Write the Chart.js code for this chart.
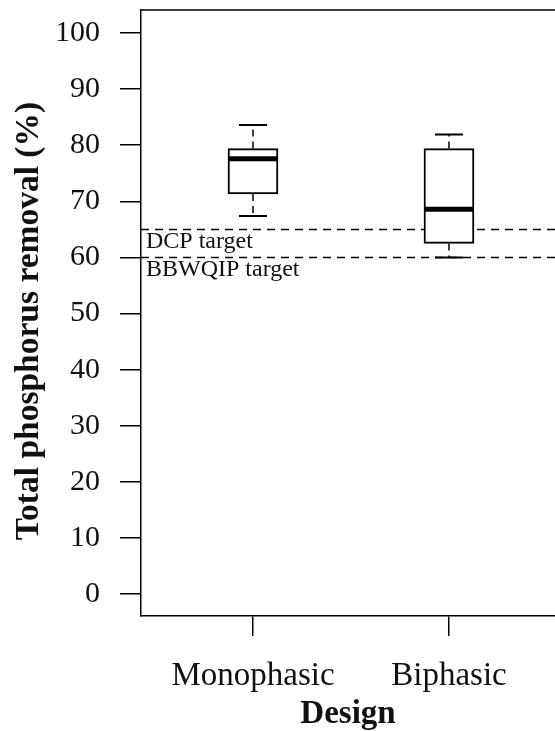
<!DOCTYPE html>
<html>
<head>
<meta charset="utf-8">
<script src="https://cdn.jsdelivr.net/npm/chart.js@4"></script>
<style>
	html, body { margin: 0; padding: 0; background: #fff; overflow: hidden; }
	#wrap { width: 555px; height: 731px; }
</style>
</head>
<body>
<div id="wrap"><canvas id="boxChart" width="555" height="731"></canvas></div>
<script>
// data
var designs = ['Monophasic', 'Biphasic'];
var positions = [1, 2];
var whiskerLow = [67.4, 60.0];
var boxLow = [71.3, 62.5];
var medians = [77.6, 68.6];
var boxHigh = [79.4, 79.4];
var whiskerHigh = [83.6, 81.9];

var targetNames = ['DCP target', 'BBWQIP target'];
var targetValues = [65, 60];

var yTicks = [0, 10, 20, 30, 40, 50, 60, 70, 80, 90, 100];
var yTitle = 'Total phosphorus removal (%)';

var X_MIN = 0.4286, X_MAX = 2.541;
var Y_MIN = -3.9, Y_MAX = 104.1;
var SERIF = '"Liberation Serif", "Times New Roman", serif';

var boxes = designs.map(function(name, i) {
	return { x: positions[i], y: [boxLow[i], boxHigh[i]] };
});

var targetSets = targetValues.map(function(v, i) {
	return {
		type: 'line',
		label: targetNames[i],
		data: [{ x: X_MIN, y: v }, { x: X_MAX, y: v }],
		borderColor: '#000',
		borderWidth: 1.5,
		borderDash: [8, 6],
		pointRadius: 0,
		fill: false
	};
});

// whiskers, caps, medians, frame, target labels and y title
var boxPlotExtras = {
	id: 'boxPlotExtras',
	afterDatasetsDraw: function(chart) {
		var ctx = chart.ctx;
		var xs = chart.scales.x, ys = chart.scales.y;
		var area = chart.chartArea;
		ctx.save();
		ctx.strokeStyle = '#000';

		for (var i = 0; i < positions.length; i++) {
			var px = xs.getPixelForValue(positions[i]);
			// dashed whiskers
			ctx.lineWidth = 1.5;
			ctx.setLineDash([7, 5]);
			ctx.beginPath();
			ctx.moveTo(px, ys.getPixelForValue(boxHigh[i]));
			ctx.lineTo(px, ys.getPixelForValue(whiskerHigh[i]));
			ctx.moveTo(px, ys.getPixelForValue(boxLow[i]));
			ctx.lineTo(px, ys.getPixelForValue(whiskerLow[i]));
			ctx.stroke();
			// caps
			ctx.setLineDash([]);
			ctx.lineWidth = 2;
			ctx.beginPath();
			ctx.moveTo(px - 14, ys.getPixelForValue(whiskerHigh[i]));
			ctx.lineTo(px + 14, ys.getPixelForValue(whiskerHigh[i]));
			ctx.moveTo(px - 14, ys.getPixelForValue(whiskerLow[i]));
			ctx.lineTo(px + 14, ys.getPixelForValue(whiskerLow[i]));
			ctx.stroke();
			// median
			ctx.lineWidth = 5;
			ctx.beginPath();
			ctx.moveTo(px - 24, ys.getPixelForValue(medians[i]));
			ctx.lineTo(px + 24, ys.getPixelForValue(medians[i]));
			ctx.stroke();
		}

		// top frame line
		ctx.lineWidth = 1.5;
		ctx.beginPath();
		ctx.moveTo(area.left, area.top);
		ctx.lineTo(area.right, area.top);
		ctx.stroke();

		// target labels
		ctx.fillStyle = '#111';
		ctx.font = '24px ' + SERIF;
		ctx.textBaseline = 'alphabetic';
		ctx.textAlign = 'left';
		for (var j = 0; j < targetNames.length; j++) {
			ctx.fillText(targetNames[j], area.left + 5, ys.getPixelForValue(targetValues[j]) + 19);
		}

		// y axis title, sitting a little below the plot centre like the original
		ctx.translate(29, (area.top + area.bottom) / 2 + 8);
		ctx.rotate(-Math.PI / 2);
		ctx.font = 'bold 33.5px ' + SERIF;
		ctx.textAlign = 'center';
		ctx.textBaseline = 'middle';
		ctx.fillText(yTitle, 0, 0);
		ctx.restore();
	}
};

var ctx = document.getElementById('boxChart').getContext('2d');
var boxChart = new Chart(ctx, {
	data: {
		datasets: [{
			type: 'bar',
			label: 'box',
			data: boxes,
			backgroundColor: '#fff',
			borderColor: '#000',
			borderWidth: 2,
			borderSkipped: false,
			barThickness: 50
		}].concat(targetSets)
	},
	options: {
		responsive: false,
		animation: false,
		layout: { padding: { top: 10, left: 0, right: 0, bottom: 0 } },
		plugins: {
			legend: { display: false },
			tooltip: { enabled: false }
		},
		scales: {
			x: {
				type: 'linear',
				min: X_MIN,
				max: X_MAX,
				offset: false,
				afterBuildTicks: function(scale) {
					scale.ticks = positions.map(function(v) { return { value: v }; });
				},
				afterFit: function(scale) {
					scale.height = 115;
					scale.paddingLeft = 0;
					scale.paddingRight = 0;
				},
				border: { display: true, color: '#000', width: 1.5 },
				grid: { offset: false, drawOnChartArea: false, tickLength: 20, color: '#000', lineWidth: 1.5 },
				ticks: {
					color: '#111',
					font: { family: SERIF, size: 33 },
					padding: 21,
					maxRotation: 0,
					autoSkip: false,
					callback: function(v) { return designs[positions.indexOf(v)] || ''; }
				},
				title: {
					display: true,
					text: 'Design',
					color: '#111',
					font: { family: SERIF, size: 33, weight: 'bold', lineHeight: 1 },
					padding: { top: 0, bottom: 0 }
				}
			},
			y: {
				min: Y_MIN,
				max: Y_MAX,
				afterBuildTicks: function(scale) {
					scale.ticks = yTicks.map(function(v) { return { value: v }; });
				},
				afterFit: function(scale) {
					scale.width = 141;
					scale.paddingTop = 0;
					scale.paddingBottom = 0;
				},
				border: { display: true, color: '#000', width: 1.5 },
				grid: { drawOnChartArea: false, tickLength: 21, color: '#000', lineWidth: 1.5 },
				ticks: {
					color: '#111',
					font: { family: SERIF, size: 30 },
					padding: 20
				},
				title: { display: false }
			}
		}
	},
	plugins: [boxPlotExtras]
});
</script>
</body>
</html>
